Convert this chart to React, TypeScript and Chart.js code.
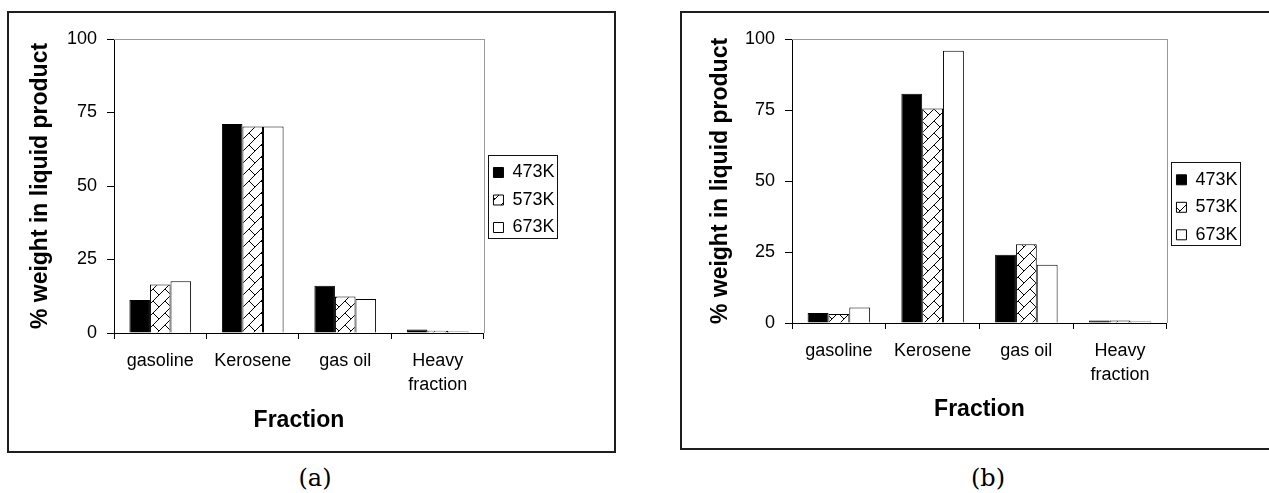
import React, { useEffect, useRef } from 'react';
import { Chart, registerables } from 'chart.js';

Chart.register(...registerables);

// ---- data ----
const categories: (string | string[])[] = ['gasoline', 'Kerosene', 'gas oil', ['Heavy', 'fraction']];
const seriesNames = ['473K', '573K', '673K'];
const panelA473 = [11.2, 71.1, 16.1, 1.2];
const panelA573 = [16.5, 70.2, 12.4, 0.8];
const panelA673 = [17.6, 70.2, 11.6, 0.5];
const panelB473 = [3.5, 80.7, 24.0, 0.9];
const panelB573 = [3.2, 75.5, 27.7, 0.9];
const panelB673 = [5.5, 95.9, 20.5, 0.5];
const yTickValues = [0, 25, 50, 75, 100];
const yTitle = '% weight in liquid product';
const xTitle = 'Fraction';
const panelLabels = ['(a)', '(b)'];

const SANS = "'Liberation Sans', Arial, sans-serif";

function makeHatch(): CanvasPattern | string {
  const n = 12;
  const c = document.createElement('canvas');
  c.width = n;
  c.height = n;
  const g = c.getContext('2d');
  if (!g) return '#888';
  g.fillStyle = '#fff';
  g.fillRect(0, 0, n, n);
  g.strokeStyle = '#000';
  g.lineWidth = 1;
  g.beginPath();
  g.moveTo(-1, n + 1);
  g.lineTo(n + 1, -1);
  g.moveTo(-1, -1);
  g.lineTo(n / 2, n / 2);
  g.stroke();
  return g.createPattern(c, 'repeat') || '#888';
}

const decorPlugin = {
  id: 'decor',
  beforeDatasetsDraw(chart: any) {
    const { ctx, chartArea: a } = chart;
    ctx.save();
    ctx.strokeStyle = '#9a9a9a';
    ctx.lineWidth = 1;
    ctx.beginPath();
    ctx.moveTo(Math.round(a.left), Math.round(a.top) + 0.5);
    ctx.lineTo(Math.round(a.right) + 1, Math.round(a.top) + 0.5);
    ctx.moveTo(Math.round(a.right) + 0.5, Math.round(a.top));
    ctx.lineTo(Math.round(a.right) + 0.5, Math.round(a.bottom));
    ctx.stroke();
    ctx.restore();
  },
  afterDraw(chart: any) {
    const lg = chart.legend;
    if (!lg || !lg.legendHitBoxes || !lg.legendHitBoxes.length) return;
    const hb = lg.legendHitBoxes;
    let l = Infinity, t = Infinity, r = -Infinity, b = -Infinity;
    for (const h of hb) {
      l = Math.min(l, h.left);
      t = Math.min(t, h.top);
      r = Math.max(r, h.left + h.width);
      b = Math.max(b, h.top + h.height);
    }
    const ctx = chart.ctx;
    ctx.save();
    ctx.strokeStyle = '#111';
    ctx.lineWidth = 1;
    const x0 = Math.round(l - 5.5) + 0.5;
    const x1 = Math.round(r + 2.5) + 0.5;
    const y0 = Math.round(t - 8.5) + 0.5;
    const y1 = Math.round(b + 1.5) + 0.5;
    ctx.strokeRect(x0, y0, x1 - x0, y1 - y0);
    ctx.restore();
  },
};

type PanelProps = {
  v473: number[];
  v573: number[];
  v673: number[];
  left: number;
  top: number;
  width: number;
  height: number;
  yAxisWidth: number;
  xAxisHeight: number;
  padTop: number;
  padRight: number;
  yTitlePad: number;
  xTitlePad: number;
  legendTitleH: number;
};

function Panel(p: PanelProps) {
  const ref = useRef<HTMLCanvasElement | null>(null);
  useEffect(() => {
    if (!ref.current) return;
    const hatch = makeHatch();
    const chart = new Chart(ref.current, {
      type: 'bar',
      data: {
        labels: categories as any,
        datasets: [
          { label: seriesNames[0], data: p.v473, backgroundColor: '#000', borderColor: '#000', borderWidth: 1 },
          { label: seriesNames[1], data: p.v573, backgroundColor: hatch as any, borderColor: '#000', borderWidth: 1 },
          { label: seriesNames[2], data: p.v673, backgroundColor: '#fff', borderColor: '#000', borderWidth: 1 },
        ],
      },
      options: {
        responsive: false,
        animation: false,
        devicePixelRatio: 1,
        layout: { padding: { top: p.padTop, right: p.padRight, bottom: 0, left: 0 } },
        datasets: { bar: { categoryPercentage: 0.667, barPercentage: 1 } } as any,
        plugins: {
          legend: {
            position: 'right',
            align: 'center',
            fullSize: false,
            title: {
              display: true,
              text: '',
              font: { size: 10, lineHeight: 1 },
              padding: { top: p.legendTitleH - 10, bottom: 0 },
            },
            labels: {
              boxWidth: 10,
              boxHeight: 10,
              padding: 9.5,
              color: '#000',
              font: { family: SANS, size: 18 },
            },
          },
          tooltip: { enabled: false },
        },
        scales: {
          x: {
            grid: { display: true, drawOnChartArea: false, drawTicks: true, tickLength: 6, color: '#000', offset: true },
            border: { display: true, color: '#000', width: 1 },
            ticks: {
              color: '#000',
              font: { family: SANS, size: 18, lineHeight: 1.3 },
              padding: 10.7,
              maxRotation: 0,
              autoSkip: false,
            },
            title: {
              display: true,
              text: xTitle,
              color: '#000',
              font: { family: SANS, size: 23, weight: 'bold', lineHeight: 1.2 },
              padding: { top: 0, bottom: p.xTitlePad },
            },
            afterFit: (s: any) => {
              s.height = p.xAxisHeight;
            },
          },
          y: {
            min: 0,
            max: 100,
            afterBuildTicks: (s: any) => {
              s.ticks = yTickValues.map((v) => ({ value: v }));
            },
            grid: { display: true, drawOnChartArea: false, drawTicks: true, tickLength: 7, color: '#000' },
            border: { display: true, color: '#000', width: 1 },
            ticks: { color: '#000', font: { family: SANS, size: 18 }, padding: 10 },
            title: {
              display: true,
              text: yTitle,
              color: '#000',
              font: { family: SANS, size: 23, weight: 'bold', lineHeight: 1.2 },
              padding: { top: p.yTitlePad, bottom: 0 },
            },
            afterFit: (s: any) => {
              s.width = p.yAxisWidth;
            },
          },
        },
      } as any,
      plugins: [decorPlugin],
    });
    return () => chart.destroy();
  }, []);
  return (
    <canvas
      ref={ref}
      width={p.width}
      height={p.height}
      style={{ position: 'absolute', left: p.left, top: p.top, width: p.width, height: p.height }}
    />
  );
}

export default function App() {
  return (
    <div
      style={{
        position: 'fixed',
        left: 0,
        top: 0,
        width: 1269,
        height: 493,
        overflow: 'hidden',
        background: '#fff',
      }}
    >
      <div
        style={{
          position: 'absolute',
          left: 7,
          top: 11,
          width: 609,
          height: 442,
          border: '2px solid #1e1e1e',
          boxSizing: 'border-box',
        }}
      />
      <div
        style={{
          position: 'absolute',
          left: 680,
          top: 11,
          width: 620,
          height: 439,
          border: '2px solid #1e1e1e',
          boxSizing: 'border-box',
        }}
      />
      <Panel
        v473={panelA473}
        v573={panelA573}
        v673={panelA673}
        left={9}
        top={13}
        width={605}
        height={438}
        yAxisWidth={105}
        xAxisHeight={118}
        padTop={26}
        padRight={49.5}
        yTitlePad={18.2}
        xTitlePad={16.2}
        legendTitleH={28}
      />
      <Panel
        v473={panelB473}
        v573={panelB573}
        v673={panelB673}
        left={682}
        top={13}
        width={587}
        height={435}
        yAxisWidth={110}
        xAxisHeight={125}
        padTop={26}
        padRight={21.5}
        yTitlePad={24.7}
        xTitlePad={24.9}
        legendTitleH={52.6}
      />
      <div
        style={{
          position: 'absolute',
          left: 265,
          top: 464,
          width: 100,
          textAlign: 'center',
          fontFamily: "'DejaVu Serif', serif",
          fontSize: 24,
          lineHeight: '28px',
          color: '#000',
        }}
      >
        {panelLabels[0]}
      </div>
      <div
        style={{
          position: 'absolute',
          left: 938,
          top: 464,
          width: 100,
          textAlign: 'center',
          fontFamily: "'DejaVu Serif', serif",
          fontSize: 24,
          lineHeight: '28px',
          color: '#000',
        }}
      >
        {panelLabels[1]}
      </div>
    </div>
  );
}
